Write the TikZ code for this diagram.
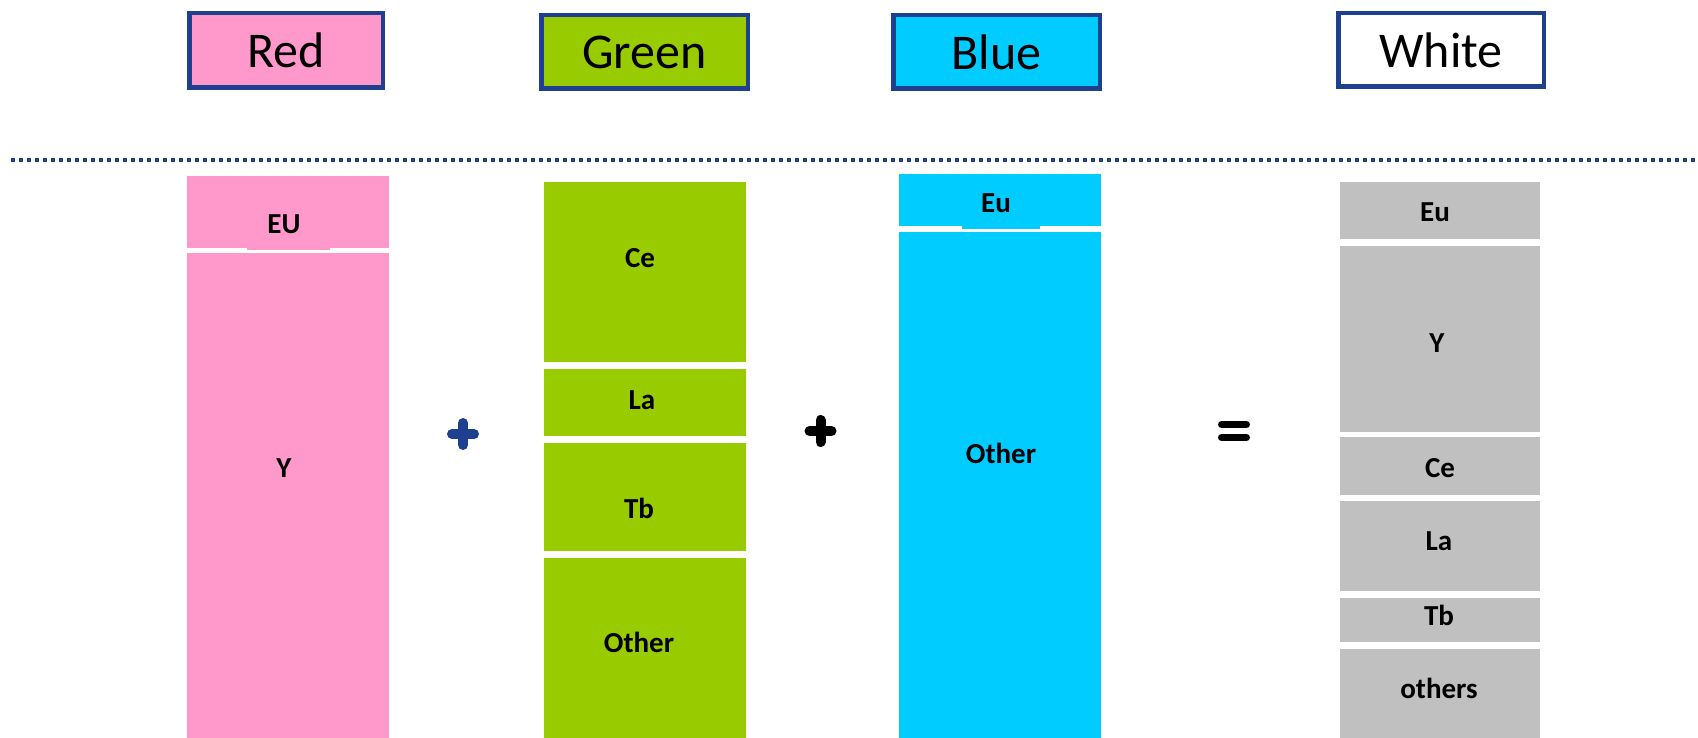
\documentclass[tikz,border=0pt]{standalone}
\usepackage{fontspec}
\setmainfont{Carlito}
\definecolor{rosa}{HTML}{FF99CC}
\definecolor{verde}{HTML}{99CC00}
\definecolor{celeste}{HTML}{00CCFF}
\definecolor{gris}{HTML}{C0C0C0}
\definecolor{borde}{HTML}{1F3F8F}
\tikzset{
  titulo/.style={draw=borde, line width=2.25pt, inner sep=0pt, font=\fontsize{25}{30}\selectfont},
  capa/.style={inner sep=0pt, outer sep=0pt, minimum width=101pt},
  etiqueta/.style={inner sep=0pt, font=\bfseries\fontsize{14.5}{17}\selectfont},
  signo/.style={line width=5pt, line cap=round},
}
\begin{document}
\begin{tikzpicture}[x=0.5pt, y=-0.5pt]
\useasboundingbox (0,0) rectangle (1698,738);

% Titulos
\node[titulo, fill=rosa, minimum width=96.75pt, minimum height=37.25pt] (T1) at (286,50.5) {Red};
\node[titulo, fill=verde, minimum width=103.25pt, minimum height=36.75pt] (T2) at (644.5,52) {Green};
\node[titulo, fill=celeste, minimum width=103.25pt, minimum height=36.75pt] (T3) at (996.5,52) {Blue};
\node[titulo, fill=white, minimum width=102.75pt, minimum height=36.75pt] (T4) at (1441,50) {White};

% Linea punteada
\coordinate (L1) at (11,160);
\coordinate (L2) at (1698,160);
\draw[borde, line width=2pt, dash pattern=on 2pt off 2pt] (L1) -- (L2);

% Columna roja
\node[capa, fill=rosa, minimum height=36pt] (R1) at (288,212) {};
\node[capa, fill=rosa, minimum height=242.5pt] (R2) at (288,495.5) {};
\fill[rosa] (247,247) rectangle (330,250);
\node[etiqueta] (R1t) at (284,224) {EU};
\node[etiqueta] (R2t) at (284,468) {Y};

% Columna verde
\node[capa, fill=verde, minimum height=90pt] (G1) at (645,272) {};
\node[capa, fill=verde, minimum height=33.5pt] (G2) at (645,402.5) {};
\node[capa, fill=verde, minimum height=54pt] (G3) at (645,497) {};
\node[capa, fill=verde, minimum height=90pt] (G4) at (645,648) {};
\node[etiqueta] (G1t) at (640,258) {Ce};
\node[etiqueta] (G2t) at (642,400) {La};
\node[etiqueta] (G3t) at (639,508) {Tb};
\node[etiqueta] (G4t) at (639,642) {Other};

% Columna azul
\node[capa, fill=celeste, minimum height=26pt] (B1) at (1000,200) {};
\node[capa, fill=celeste, minimum height=253pt] (B2) at (1000,485) {};
\fill[celeste] (962,225) rectangle (1040,229);
\node[etiqueta] (B1t) at (996,203) {Eu};
\node[etiqueta] (B2t) at (1001,453) {Other};

% Columna blanca
\node[capa, fill=gris, minimum width=100pt, minimum height=28.5pt] (W1) at (1440,210.5) {};
\node[capa, fill=gris, minimum width=100pt, minimum height=93pt] (W2) at (1440,339) {};
\node[capa, fill=gris, minimum width=100pt, minimum height=29pt] (W3) at (1440,466) {};
\node[capa, fill=gris, minimum width=100pt, minimum height=45pt] (W4) at (1440,546) {};
\node[capa, fill=gris, minimum width=100pt, minimum height=22pt] (W5) at (1440,620) {};
\node[capa, fill=gris, minimum width=100pt, minimum height=44.5pt] (W6) at (1440,693.5) {};
\node[etiqueta] (W1t) at (1435,212) {Eu};
\node[etiqueta] (W2t) at (1437,343) {Y};
\node[etiqueta] (W3t) at (1440,468) {Ce};
\node[etiqueta] (W4t) at (1439,541) {La};
\node[etiqueta] (W5t) at (1439,615) {Tb};
\node[etiqueta] (W6t) at (1439,688) {others};

% Signos
\draw[signo, borde] (452,434) -- (474,434);
\draw[signo, borde] (463,423) -- (463,445);
\draw[signo] (809.5,431) -- (831.5,431);
\draw[signo] (820.5,420) -- (820.5,442);
\draw[line width=3.5pt, line cap=round] (1221.5,424.5) -- (1246.5,424.5);
\draw[line width=3.5pt, line cap=round] (1221.5,437.5) -- (1246.5,437.5);

\end{tikzpicture}
\end{document}
